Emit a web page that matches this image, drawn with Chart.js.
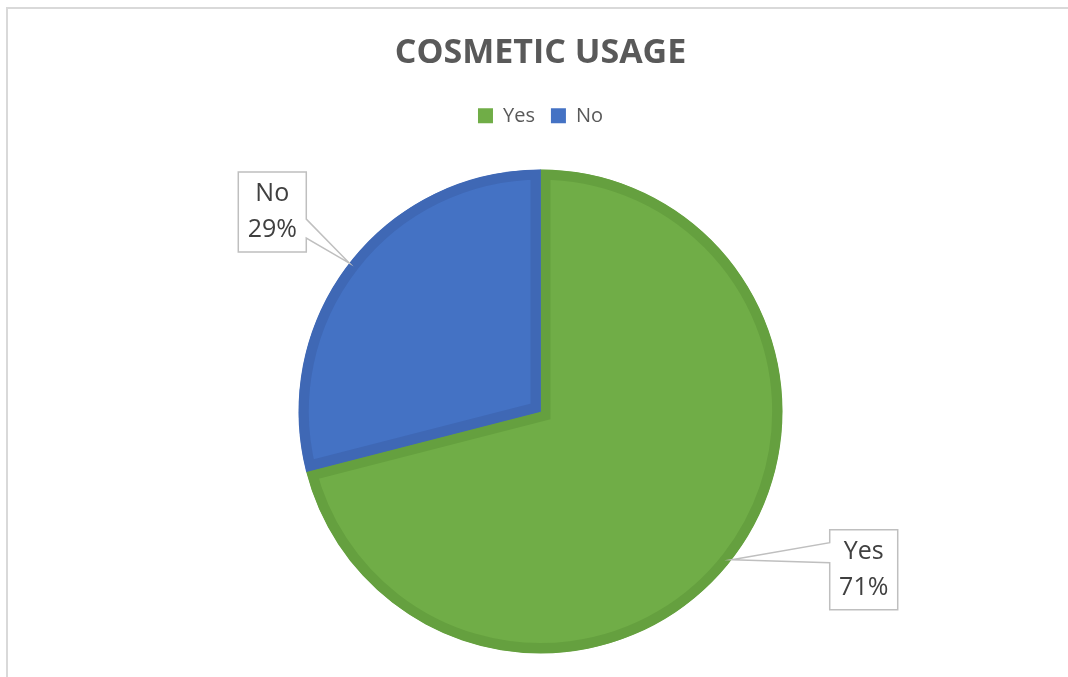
<!DOCTYPE html>
<html>
<head>
<meta charset="utf-8">
<title>Cosmetic Usage</title>
<script src="https://cdn.jsdelivr.net/npm/chart.js@4.4.1/dist/chart.umd.min.js"></script>
<style>
  html, body { margin: 0; padding: 0; background: #fff; }
  #wrap { position: relative; width: 1068px; height: 677px; overflow: hidden; }
  #frame {
    position: absolute; left: 6px; top: 7px; right: -10px; bottom: -10px;
    border-left: 2px solid #d9d9d9; border-top: 2px solid #d9d9d9;
  }
  /* canvas runs a little past the bottom edge; the wrapper crops it */
  #usageChart { position: absolute; left: 0; top: 0; }
</style>
</head>
<body>
<div id="wrap">
  <div id="frame"></div>
  <canvas id="usageChart" width="1068" height="687"></canvas>
</div>
<script>
const categories = ["Yes", "No"];
const usageValues = [71, 29];
const sliceColors = ["#70AD47", "#4472C4"];
const sliceEdges = ["#65A03F", "#3F68B5"];

// callout boxes: offset of the box from the slice's edge point
const calloutPlacement = [
  { dx: 98, dy: -30, side: "left" },
  { dx: -43, dy: -91, side: "right" }
];

const calloutPlugin = {
  id: "callouts",
  afterDatasetsDraw(chart) {
    const ctx = chart.ctx;
    const meta = chart.getDatasetMeta(0);
    const data = chart.data.datasets[0].data;
    const total = data.reduce((a, b) => a + b, 0);
    const boxW = 68, boxH = 80;

    meta.data.forEach((arc, i) => {
      const { x, y, startAngle, endAngle, outerRadius } = arc.getProps(
        ["x", "y", "startAngle", "endAngle", "outerRadius"], true);
      const mid = (startAngle + endAngle) / 2;
      const ax = x + Math.cos(mid) * outerRadius;
      const ay = y + Math.sin(mid) * outerRadius;
      const p = calloutPlacement[i];

      let left, top = ay + p.dy;
      if (p.side === "left") left = ax + p.dx;
      else left = ax + p.dx - boxW;
      const right = left + boxW, bottom = top + boxH;

      ctx.save();
      ctx.beginPath();
      if (p.side === "left") {
        ctx.moveTo(left, top);
        ctx.lineTo(right, top);
        ctx.lineTo(right, bottom);
        ctx.lineTo(left, bottom);
        ctx.lineTo(left, top + 33);
        ctx.lineTo(ax, ay);
        ctx.lineTo(left, top + 13);
      } else {
        ctx.moveTo(left, top);
        ctx.lineTo(right, top);
        ctx.lineTo(right, top + 47);
        ctx.lineTo(ax, ay);
        ctx.lineTo(right, top + 66);
        ctx.lineTo(right, bottom);
        ctx.lineTo(left, bottom);
      }
      ctx.closePath();
      ctx.fillStyle = "#ffffff";
      ctx.fill();
      ctx.strokeStyle = "#bfbfbf";
      ctx.lineWidth = 1.5;
      ctx.stroke();

      const pct = Math.round(data[i] / total * 100) + "%";
      ctx.fillStyle = "#404040";
      ctx.font = "25px 'Open Sans'";
      ctx.textAlign = "center";
      ctx.textBaseline = "middle";
      const cx = (left + right) / 2;
      ctx.fillText(chart.data.labels[i], cx, top + 22);
      ctx.fillText(pct, cx, top + 58);
      ctx.restore();
    });
  }
};

const ctx = document.getElementById("usageChart").getContext("2d");

new Chart(ctx, {
  type: "pie",
  data: {
    labels: categories,
    datasets: [{
      data: usageValues,
      backgroundColor: sliceColors,
      borderColor: sliceEdges,
      borderWidth: 10,
      borderAlign: "inner",
      borderJoinStyle: "miter",
      hoverOffset: 0
    }]
  },
  options: {
    responsive: false,
    animation: false,
    radius: 242,
    layout: { padding: { top: 0, bottom: 0, left: 13, right: 0 } },
    plugins: {
      title: {
        display: true,
        text: "COSMETIC USAGE",
        color: "#595959",
        font: { family: "'Open Sans'", size: 34, weight: "bold" },
        padding: { top: 33, bottom: 16 }
      },
      legend: {
        position: "top",
        labels: {
          color: "#595959",
          font: { family: "'Open Sans'", size: 20 },
          boxWidth: 15,
          boxHeight: 15,
          padding: 16,
          generateLabels(chart) {
            const ds = chart.data.datasets[0];
            return chart.data.labels.map((label, i) => ({
              text: label,
              fillStyle: ds.backgroundColor[i],
              strokeStyle: ds.backgroundColor[i],
              fontColor: "#595959",
              lineWidth: 0,
              hidden: false,
              index: i
            }));
          }
        }
      },
      tooltip: { enabled: false }
    }
  },
  plugins: [calloutPlugin]
});
</script>
</body>
</html>
